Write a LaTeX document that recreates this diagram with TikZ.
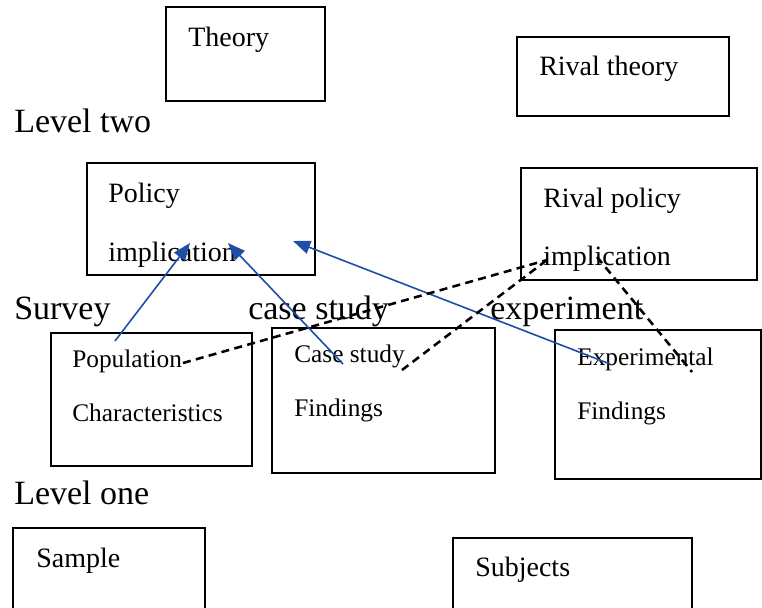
\documentclass[tikz,border=0pt]{standalone}
\usepackage{fontspec}
\setmainfont{Liberation Serif}
\usetikzlibrary{arrows.meta}
\definecolor{linkblue}{RGB}{31,78,168}
\tikzset{
  box/.style={draw=black,line width=1.2pt},
  big/.style={anchor=base west,inner sep=0pt,font=\fontsize{21pt}{24pt}\selectfont},
  small/.style={anchor=base west,inner sep=0pt,font=\fontsize{19pt}{22pt}\selectfont},
  head/.style={anchor=base west,inner sep=0pt,font=\fontsize{25.5pt}{29pt}\selectfont},
  bluearrow/.style={draw=linkblue,line width=1.2pt,-{Triangle[length=13pt,width=10pt]}},
  dashline/.style={draw=black,line width=1.9pt,dash pattern=on 6pt off 4pt}
}
\begin{document}
\begin{tikzpicture}[x=0.75pt,y=-0.75pt]
\useasboundingbox[fill=white] (0,0) rectangle (762,607);
% boxes
\draw[box] (166,7) rectangle (325,101);
\draw[box] (517,37) rectangle (729,116);
\draw[box] (87,163) rectangle (315,275);
\draw[box] (521,168) rectangle (757,280);
\draw[box] (51,333) rectangle (252,466);
\draw[box] (272,328) rectangle (495,473);
\draw[box] (555,330) rectangle (761,479);
\draw[box] (13,528) rectangle (205,612);
\draw[box] (453,538) rectangle (692,612);
% texts
\node[big] (theory) at (188,46) {Theory};
\node[big] (rivaltheory) at (539,75) {Rival theory};
\node[head] (leveltwo) at (14,132) {Level two};
\node[big] (policy) at (108,202) {Policy};
\node[big] (implication) at (108,261) {implication};
\node[big] (rivalpolicy) at (543,207) {Rival policy};
\node[big] (rivalimpl) at (543,265) {implication};
\node[head] (survey) at (14,319) {Survey};
\node[head] (casestudyh) at (248,319) {case study};
\node[head] (experimenth) at (490,319) {experiment};
\node[small] (population) at (72,367) {Population};
\node[small] (characteristics) at (72,421) {Characteristics};
\node[small] (casestudy) at (294,362) {Case study};
\node[small] (findings1) at (294,416) {Findings};
\node[small] (experimental) at (577,365) {Experimental};
\node[small] (findings2) at (577,419) {Findings};
\node[head] (levelone) at (14,504) {Level one};
\node[big] (sample) at (36,567) {Sample};
\node[big] (subjects) at (475,576) {Subjects};
% connector end points
\coordinate (popS) at (115,341);
\coordinate (impA) at (190,243);
\coordinate (caseS) at (343,364);
\coordinate (impB) at (228,243);
\coordinate (expS) at (610,364);
\coordinate (impC) at (293,241);
\coordinate (popE) at (183,363);
\coordinate (rivA) at (547,260);
\coordinate (caseE) at (402,370);
\coordinate (rivB) at (597,257);
\coordinate (expE) at (692,372);
% blue arrows
\draw[bluearrow] (popS) -- (impA);
\draw[bluearrow] (caseS) -- (impB);
\draw[bluearrow] (expS) -- (impC);
% dashed lines
\draw[dashline] (popE) -- (rivA);
\draw[dashline] (caseE) -- (rivA);
\draw[dashline] (rivB) -- (expE);
\end{tikzpicture}
\end{document}
